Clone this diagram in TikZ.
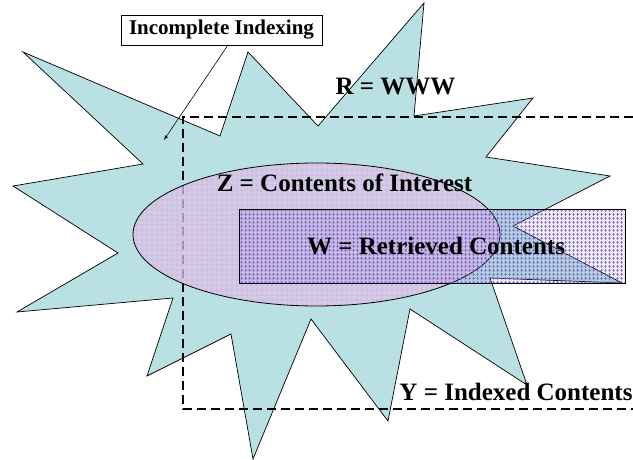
\documentclass[tikz,border=0pt]{standalone}
\usepackage{fontspec}
\setmainfont{Liberation Serif}
\usepackage{tikz}
\usetikzlibrary{patterns, arrows}

% small plus signs for the retrieved block
\pgfdeclarepatternformonly{pluses}{\pgfqpoint{0pt}{0pt}}{\pgfqpoint{4pt}{4pt}}{\pgfqpoint{4pt}{4pt}}{
\pgfsetlinewidth{0.9pt}
\pgfpathmoveto{\pgfqpoint{0.4pt}{2pt}}\pgfpathlineto{\pgfqpoint{3.6pt}{2pt}}
\pgfpathmoveto{\pgfqpoint{2pt}{0.4pt}}\pgfpathlineto{\pgfqpoint{2pt}{3.6pt}}
\pgfusepath{stroke}
}
% wider grid for the interest ellipse
\pgfdeclarepatternformonly{widegrid}{\pgfqpoint{0pt}{0pt}}{\pgfqpoint{4.5pt}{4.5pt}}{\pgfqpoint{4.5pt}{4.5pt}}{
\pgfsetlinewidth{0.7pt}
\pgfpathmoveto{\pgfqpoint{0pt}{2.25pt}}\pgfpathlineto{\pgfqpoint{4.5pt}{2.25pt}}
\pgfpathmoveto{\pgfqpoint{2.25pt}{0pt}}\pgfpathlineto{\pgfqpoint{2.25pt}{4.5pt}}
\pgfusepath{stroke}
}

\definecolor{webcyan}{RGB}{185,224,226}
\definecolor{lavender}{RGB}{208,200,234}
\definecolor{gridpink}{RGB}{240,165,220}
\definecolor{plusviolet}{RGB}{125,100,200}

\tikzset{
  setlabel/.style={font=\bfseries\fontsize{25}{25}\selectfont, inner sep=0pt},
  calloutbox/.style={draw, fill=white, line width=0.6pt, font=\bfseries\fontsize{21}{21}\selectfont,
    minimum width=201pt, minimum height=30pt, inner sep=0pt},
  setborder/.style={dash pattern=on 9pt off 5pt, line width=1.5pt}
}

\begin{document}
\begin{tikzpicture}[x=1pt, y=-1pt]
\useasboundingbox (0,0) rectangle (633,460);

% draw the web as a star burst
\draw[fill=webcyan, line width=0.7pt]
  (23,52) -- (220,136) -- (248,52) -- (318,126) -- (424,3) -- (414,116)
  -- (533,98) -- (486,157) -- (610,176) -- (513,226) -- (622,283) -- (490,278)
  -- (527,385) -- (410,309) -- (388,421) -- (311,319) -- (253,459) -- (231,334)
  -- (147,376) -- (173,298) -- (17,312) -- (118,253) -- (13,186) -- (143,164) -- cycle;

% indexed contents (open to the right)
\draw[setborder] (633,117) -- (183,117) -- (183,409) -- (633,409);

% contents of interest
\fill[lavender, fill opacity=0.7] (316.5,234.5) ellipse (183.5 and 71.5);
\fill[pattern=widegrid, pattern color=gridpink] (316.5,234.5) ellipse (183.5 and 71.5);
\draw[line width=0.8pt] (316.5,234.5) ellipse (183.5 and 71.5);

% retrieved contents
\fill[plusviolet, fill opacity=0.12] (239,209) rectangle (625,283);
\draw[pattern=pluses, pattern color=plusviolet, line width=0.7pt] (239,209) rectangle (625,283);

% labels
\node[setlabel] (www) at (395.5,87) {R = WWW};
\node[setlabel] (interest) at (344.5,183) {Z = Contents of Interest};
\node[setlabel] (retrieved) at (436,246) {W = Retrieved Contents};
\node[setlabel] (indexed) at (516,392) {Y = Indexed Contents};

% callout
\node[calloutbox] (gap) at (221.5,30) {Incomplete Indexing};
\coordinate (gapend) at (164,140);
\draw[-latex, line width=0.6pt] (228,45) -- (gapend);

\end{tikzpicture}
\end{document}
